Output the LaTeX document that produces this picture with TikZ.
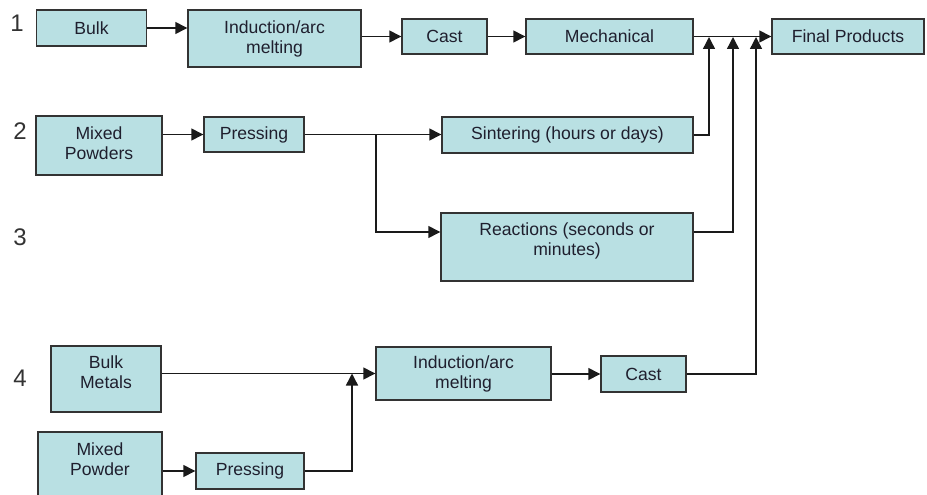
\documentclass[tikz,border=0pt]{standalone}
\usepackage{fontspec}
\setmainfont{Liberation Sans}
\usetikzlibrary{arrows.meta}
\definecolor{boxfill}{HTML}{B9E0E3}
\definecolor{boxline}{HTML}{333333}
\definecolor{txt}{HTML}{1F1F2E}
\definecolor{wire}{HTML}{1A1A1A}
\tikzset{
  stage/.style={draw=boxline, fill=boxfill, line width=1.4pt, inner sep=0pt,
    text=txt, align=center, font=\fontsize{17.6}{20}\selectfont},
  caption/.style={text=txt, align=center, inner sep=0pt, font=\fontsize{17.6}{20}\selectfont},
  rownum/.style={text=boxline, inner sep=0pt, font=\fontsize{24}{24}\selectfont},
  flow/.style={draw=wire, line width=1.4pt, -{Triangle[length=12pt,width=12pt]}}
}
\begin{document}
\begin{tikzpicture}[x=1pt,y=-1pt]
\useasboundingbox (0,0) rectangle (927,495);

% row numbers
\node[rownum] (n1) at (17,23) {1};
\node[rownum] (n2) at (20,131) {2};
\node[rownum] (n3) at (20,237) {3};
\node[rownum] (n4) at (20,378) {4};

% route 1: melting and casting
\node[stage, minimum width=110pt, minimum height=36pt] (bulk) at (91.5,28) {Bulk};
\node[stage, minimum width=173pt, minimum height=57pt] (ind1) at (274.5,38.5) {Induction/arc\\melting};
\node[stage, minimum width=85pt, minimum height=35pt] (cast1) at (444.5,36.5) {Cast};
\node[stage, minimum width=167pt, minimum height=35pt] (mech) at (609.5,36.5) {Mechanical};
\node[stage, minimum width=152pt, minimum height=35pt] (final) at (848,36.5) {Final Products};

% routes 2 and 3: powders
\node[stage, minimum width=126pt, minimum height=59pt] (mp) at (99,145.5) {};
\node[caption] (mpT) at (99,143) {Mixed\\Powders};
\node[stage, minimum width=100pt, minimum height=35pt] (press) at (254,134.5) {Pressing};
\node[stage, minimum width=251pt, minimum height=36pt] (sint) at (567.5,135) {Sintering (hours or days)};
\node[stage, minimum width=252pt, minimum height=68pt] (react) at (567,247) {};
\node[caption] (reactT) at (567,241) {Reactions (seconds or\\minutes)};

% route 4: mixed melting
\node[stage, minimum width=110pt, minimum height=66pt] (bm) at (106,379) {};
\node[caption] (bmT) at (106,372.5) {Bulk\\Metals};
\node[stage, minimum width=124pt, minimum height=70pt] (mp2) at (100,467) {};
\node[caption] (mp2T) at (100,459) {Mixed\\Powder};
\node[stage, minimum width=108pt, minimum height=36pt] (press2) at (250,471) {Pressing};
\node[stage, minimum width=175pt, minimum height=53pt] (ind2) at (463.5,373.5) {Induction/arc\\melting};
\node[stage, minimum width=85pt, minimum height=36pt] (cast2) at (643.5,374) {Cast};

% junction points
\coordinate (j1) at (709,37);
\coordinate (j2) at (733,37);
\coordinate (j3) at (756,37);
\coordinate (b2) at (376,134.5);
\coordinate (r3) at (376,232);
\coordinate (j4) at (352,373.5);

% route 1 connectors
\draw[flow] (bulk.east) -- (bulk.east -| ind1.west);
\draw[flow] (cast1.west -| ind1.east) -- (cast1.west);
\draw[flow] (cast1.east) -- (mech.west);
\draw[flow] (mech.east) -- (final.west);

% routes 2 and 3 connectors
\draw[flow] (press.west -| mp.east) -- (press.west);
\draw[flow] (press.east) -- (press.east -| sint.west);
\draw[flow] (b2) -- (r3) -- (r3 -| react.west);
\draw[flow] (sint.east) -| (j1);
\draw[flow] (r3 -| react.east) -| (j2);

% route 4 connectors
\draw[flow] (ind2.west -| bm.east) -- (ind2.west);
\draw[flow] (press2.west -| mp2.east) -- (press2.west);
\draw[flow] (press2.east) -| (j4);
\draw[flow] (cast2.west -| ind2.east) -- (cast2.west);
\draw[flow] (cast2.east) -| (j3);
\end{tikzpicture}
\end{document}
